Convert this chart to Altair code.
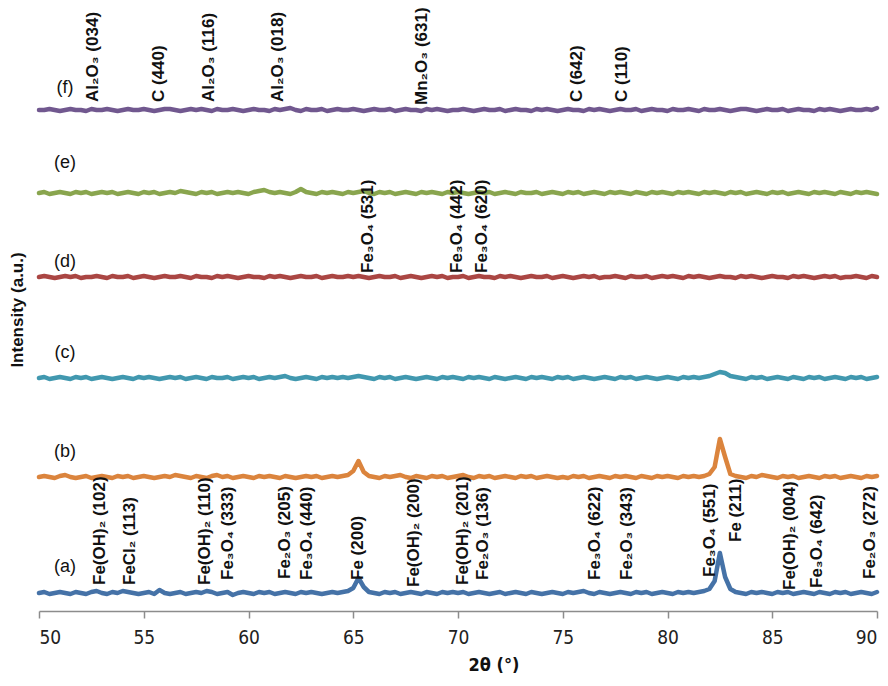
import altair as alt
import pandas as pd

# ---------------- data ----------------
START = 50.0          # first 2-theta of the scan
STEP = 0.25           # scan step (degrees)

series_names = ["a", "b", "c", "d", "e", "f"]
series_colors = ["#4572A7", "#DB843D", "#4198AF", "#AA4643", "#89A54E", "#71588F"]
series_offsets = [18, 134, 233, 334, 418, 501]   # vertical stacking offsets (a.u.)

int_a = [
    0, 1, -1, 0, 1, 0, -1, 1, 0, -1, 1, 2, 0, -1, 1, 0, 2, 1, 0, -1,
    0, 1, -1, 3, 0, -1, 0, 1, -1, 0, 1, 0, 2, 1, -1, 0, 1, -2, 0, 1,
    0, -1, 1, 0, 1, -1, 0, 1, 0, -1, 1, 0, 1, 0, -1, 0, 1, 0, 1, 2,
    5, 15, 6, 1, 0, -1, 1, 0, 1, -1, 0, 1, 0, -1, 1, 0, -1, 1, 0, 1,
    0, 1, -1, 0, 1, 0, -1, 0, 1, -1, 0, 1, 0, -1, 1, 0, -1, 0, 1, 0,
    -1, 1, 0, 1, 2, 0, -1, 1, 0, -1, 0, 1, 0, -1, 1, 0, 1, -1, 0, 1,
    0, -1, 1, 0, 1, 0, 1, 2, 4, 12, 40, 16, 4, 1, 0, -1, 1, 0, 1, 0,
    -1, 1, 0, 1, -1, 0, 1, 0, -1, 1, 0, -1, 1, 0, 1, -1, 0, 1, 0, -1, 1,
]
int_b = [
    0, 1, 0, -1, 1, 2, 0, -1, 0, 1, -1, 0, 1, 0, -1, 1, 0, 1, -1, 0,
    1, 0, -1, 0, 1, 0, 2, 1, 0, -1, 1, 0, -1, 1, 2, 0, 1, -1, 0, 1,
    0, -1, 1, 0, 1, 0, -1, 1, 0, -1, 0, 1, 0, 1, -1, 0, 1, 0, 1, 2,
    6, 16, 5, 1, 0, -1, 1, 0, 1, 2, 0, -1, 1, 0, -1, 1, 0, 1, -1, 0,
    1, 2, 0, -1, 1, 0, 1, -1, 0, 1, 0, -1, 1, 0, 1, -1, 0, 1, 0, -1,
    0, -1, 1, 0, 1, -1, 0, 1, 0, -1, 1, 0, 1, 0, -1, 1, 0, -1, 1, 0,
    1, 0, -1, 1, 0, 1, 0, 1, 3, 10, 38, 20, 3, 1, 0, -1, 1, 0, 2, 1,
    0, -1, 1, 0, 1, -1, 0, 1, 0, -1, 1, 0, 1, -1, 0, 1, 0, -1, 1, 0, 1,
]
int_c = [
    0, 1, -1, 0, 1, 0, -1, 1, 0, 1, -1, 0, 1, 0, -1, 0, 1, 0, -1, 1,
    0, 1, 0, -1, 0, 1, 0, 1, -1, 0, 1, 0, -1, 1, 0, 0, 1, -1, 0, 1,
    0, 1, -1, 0, 1, 0, 1, 2, 0, -1, 0, 1, 0, -1, 1, 0, 1, 0, 1, 0,
    1, 2, 1, 0, -1, 1, 0, 1, -1, 0, 1, 0, -1, 0, 1, 0, -1, 1, 0, 1,
    0, -1, 1, 0, 1, 0, -1, 1, 0, -1, 0, 1, 0, -1, 1, 0, 1, 0, -1, 1,
    0, 1, -1, 0, 1, 0, -1, 0, 1, 0, -1, 1, 0, 1, -1, 0, 1, 0, -1, 0,
    1, 0, -1, 1, 0, 1, 0, 1, 2, 4, 6, 5, 2, 1, 0, -1, 1, 0, 1, -1,
    0, 1, 0, -1, 1, 0, -1, 1, 0, 1, -1, 0, 1, 0, -1, 1, 0, 1, -1, 0, 1,
]
int_d = [
    0, 1, 0, -1, 0, 1, 0, 1, -1, 0, 0, 1, 0, -1, 1, 0, 0, 1, -1, 0,
    1, 0, -1, 0, 1, 0, 0, 1, 0, -1, 1, 0, 0, -1, 1, 0, 1, 0, -1, 0,
    1, 0, 0, -1, 1, 0, 1, 0, -1, 0, 1, 0, 0, 1, -1, 0, 1, 0, 0, 1,
    0, 1, 0, -1, 0, 1, 0, 0, 1, -1, 0, 1, 0, -1, 0, 1, 0, 1, -1, 0,
    0, 1, -1, 0, 1, 0, 0, -1, 1, 0, 1, 0, -1, 0, 1, 0, 0, 1, -1, 0,
    1, 0, -1, 0, 1, 0, 1, -1, 0, 0, 1, 0, -1, 1, 0, 0, 1, -1, 0, 1,
    0, 1, 0, -1, 1, 0, 1, 0, -1, 0, 1, 0, 0, -1, 1, 0, 1, 0, -1, 0,
    1, 0, 0, -1, 1, 0, 1, 0, -1, 0, 1, 0, 1, -1, 0, 0, 1, 0, -1, 1, 0,
]
int_e = [
    0, 1, -1, 0, 1, 0, -1, 1, 0, 1, -1, 0, 1, 0, 1, -1, 0, 1, 0, -1,
    1, 0, 1, -1, 0, 1, 0, 2, 1, 0, -1, 1, 0, 1, -1, 0, 1, 0, 1, 0,
    -1, 1, 2, 3, 1, 0, 1, 0, -1, 1, 4, 1, 0, -1, 1, 0, 1, 0, -1, 1,
    0, 1, 2, 0, -1, 1, 0, 1, -1, 0, 1, 0, -1, 1, 0, 1, 0, -1, 1, 0,
    1, 0, -1, 0, 1, 0, 1, -1, 0, 1, 0, -1, 1, 0, 0, 1, -1, 0, 1, 0,
    -1, 1, 0, 1, -1, 0, 1, 0, -1, 1, 0, 1, 0, -1, 1, 0, -1, 1, 0, 1,
    0, -1, 1, 0, 1, 0, -1, 1, 0, 1, 0, -1, 1, 0, 1, -1, 0, 1, 0, -1,
    1, 0, 1, -1, 0, 1, 0, -1, 1, 0, 1, 0, -1, 1, 0, -1, 1, 0, 1, 0, -1,
]
int_f = [
    0, 0, 1, 0, -1, 0, 1, 0, 0, -1, 1, 0, 0, 1, 0, -1, 0, 1, 0, 0,
    1, 0, -1, 0, 1, 1, 0, -1, 0, 1, 0, 1, 0, -1, 1, 0, 0, 1, 0, -1,
    0, 1, 0, 0, -1, 1, 0, 1, 2, 0, -1, 1, 0, 0, 1, -1, 0, 1, 0, 0,
    1, 0, -1, 0, 1, 0, 0, 1, -1, 0, 1, 0, 0, -1, 1, 0, 1, 0, -1, 0,
    0, 1, 0, -1, 0, 1, 0, 0, 1, -1, 0, 1, 0, 0, -1, 1, 0, 1, 0, -1,
    0, 1, 0, 0, -1, 1, 0, 1, 0, -1, 0, 1, 0, 0, 1, -1, 0, 1, 0, 0,
    -1, 1, 0, 0, 1, 0, -1, 1, 0, 0, 1, 0, -1, 0, 1, 1, 0, -1, 0, 1,
    0, 0, 1, -1, 0, 1, 0, 0, -1, 1, 0, 1, 0, -1, 0, 1, 0, 0, 1, 0, 2,
]
series_values = [int_a, int_b, int_c, int_d, int_e, int_f]

# series tags "(a)".."(f)"
tag_text = ["(a)", "(b)", "(c)", "(d)", "(e)", "(f)"]
tag_x = [51.24, 51.24, 51.24, 51.24, 51.24, 51.24]
tag_level = [44, 159, 258, 349, 448, 523]

# reflection annotations
ann_text = [
    "Fe(OH)₂ (102)", "FeCl₂ (113)", "Fe(OH)₂ (110)", "Fe₃O₄ (333)", "Fe₂O₃ (205)",
    "Fe₃O₄ (440)", "Fe (200)", "Fe(OH)₂ (200)", "Fe(OH)₂ (201)", "Fe₂O₃ (136)",
    "Fe₃O₄ (622)", "Fe₂O₃ (343)", "Fe₃O₄ (551)", "Fe (211)", "Fe(OH)₂ (004)",
    "Fe₃O₄ (642)", "Fe₂O₃ (272)",
    "Fe₃O₄ (531)", "Fe₃O₄ (442)", "Fe₃O₄ (620)",
    "Al₂O₃ (034)", "C (440)", "Al₂O₃ (116)", "Al₂O₃ (018)", "Mn₂O₃ (631)",
    "C (642)", "C (110)",
]
ann_x = [
    52.91, 54.34, 57.92, 59.02, 61.74, 62.79, 65.23, 67.90, 70.24, 71.19,
    76.54, 78.07, 82.03, 83.27, 85.85, 87.14, 89.67,
    65.70, 69.95, 71.15,
    52.58, 55.73, 58.11, 61.41, 68.28, 75.68, 77.83,
]
ann_level = [
    26, 26, 26, 31, 32, 31, 31, 24, 26, 31, 31, 31, 34, 69, 21, 23, 32,
    338, 338, 338,
    509, 509, 509, 509, 506, 509, 509,
]

# ---------------- tables ----------------
rows = []
for name, off, vals in zip(series_names, series_offsets, series_values):
    for i, v in enumerate(vals):
        rows.append({"series": name, "two_theta": START + STEP * i, "intensity": off + v})
df_lines = pd.DataFrame(rows)
df_tags = pd.DataFrame({"label": tag_text, "two_theta": tag_x, "intensity": tag_level})
df_ann = pd.DataFrame({"label": ann_text, "two_theta": ann_x, "intensity": ann_level})

NARROW = "'Liberation Sans Narrow', 'DejaVu Sans Condensed', 'Arial Narrow', sans-serif"
ARIAL = "'Liberation Sans', Arial, sans-serif"

x_enc = alt.X(
    "two_theta:Q",
    scale=alt.Scale(domain=[50, 90], nice=False, zero=False),
    axis=alt.Axis(
        values=[50, 55, 60, 65, 70, 75, 80, 85, 90], format="d", title=None,
        grid=False, tickSize=7, tickWidth=1.5, tickColor="#8c8c8c",
        domainColor="#8c8c8c", domainWidth=1.5, labelFont=NARROW,
        labelFontSize=19, labelColor="#222222", labelPadding=10,
    ),
)
y_enc = alt.Y("intensity:Q", scale=alt.Scale(domain=[0, 600], nice=False, zero=False), axis=None)

lines = alt.Chart(df_lines).mark_line(strokeWidth=4.5, strokeJoin="round", strokeCap="round").encode(
    x=x_enc, y=y_enc,
    color=alt.Color("series:N", scale=alt.Scale(domain=series_names, range=series_colors), legend=None),
    detail="series:N",
)

tags = alt.Chart(df_tags).mark_text(
    font=ARIAL, fontSize=18, color="#111111", align="center", baseline="middle"
).encode(x=x_enc, y=y_enc, text="label:N")

ann = alt.Chart(df_ann).mark_text(
    font=ARIAL, fontSize=17, fontWeight="bold", color="#111111",
    angle=270, align="left", baseline="middle",
).encode(x=x_enc, y=y_enc, text="label:N")

x_title = alt.Chart(pd.DataFrame({"t": ["2θ (°)"]})).mark_text(
    font=NARROW, fontSize=18, fontWeight="bold", color="#111111", align="center", baseline="middle"
).encode(text="t:N", x=alt.value(455), y=alt.value(655))

y_title = alt.Chart(pd.DataFrame({"t": ["Intensity (a.u.)"]})).mark_text(
    font=ARIAL, fontSize=17, fontWeight="bold", color="#111111", angle=270,
    align="center", baseline="middle"
).encode(text="t:N", x=alt.value(-21), y=alt.value(299))

chart = alt.layer(lines, tags, ann, x_title, y_title).properties(
    width=838, height=600,
    padding={"left": 31, "top": 3, "right": 3, "bottom": 67},
    autosize=alt.AutoSizeParams(type="none"),
).configure_view(stroke=None)

chart.save("out.html", embed_options={"renderer": "svg", "actions": False})
